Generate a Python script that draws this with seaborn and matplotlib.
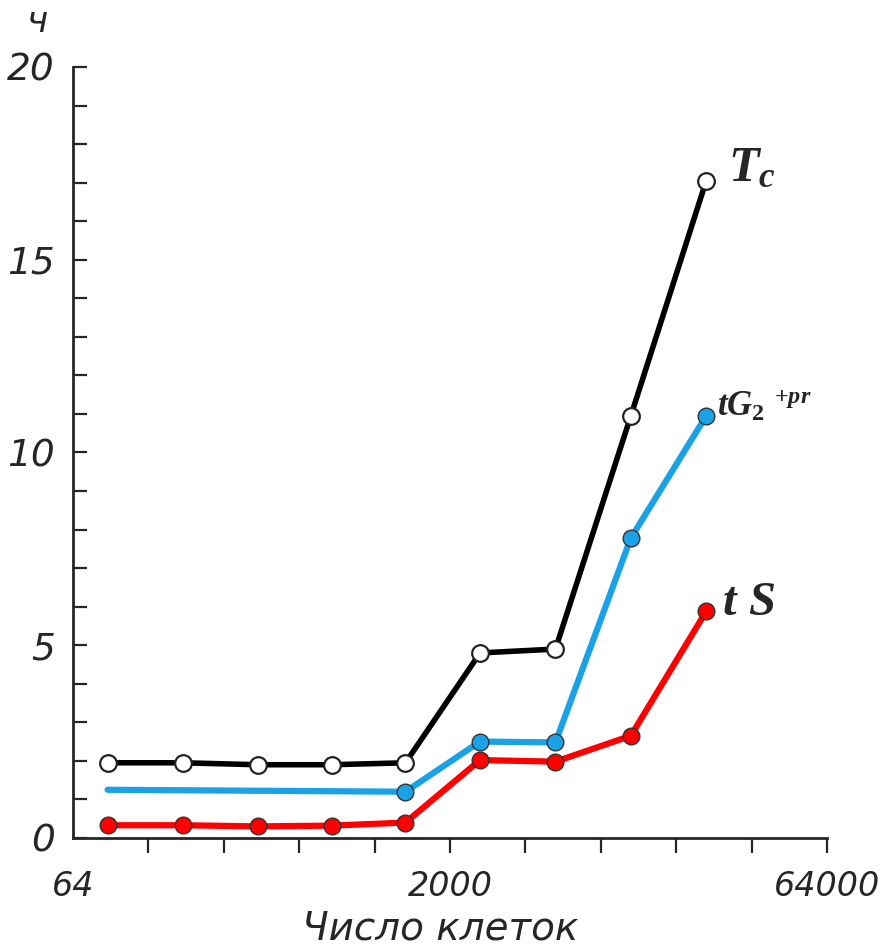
# Cell-cycle durations vs number of cells (log2 x-axis)
import pandas as pd
import matplotlib.pyplot as plt
import seaborn as sns

cells = [88, 176, 350, 690, 1360, 2700, 5400, 10800, 21600]
t_c = [1.95, 1.95, 1.9, 1.9, 1.95, 4.8, 4.9, 10.95, 17.05]
t_s = [0.33, 0.33, 0.3, 0.32, 0.4, 2.02, 1.98, 2.65, 5.88]
# blue curve: plain line from the first stage, dots from 1360 cells on
cells_g2 = [88, 1360, 2700, 5400, 10800, 21600]
t_g2 = [1.25, 1.2, 2.5, 2.48, 7.78, 10.95]

x_labels = {64: "64", 2048: "2000", 65536: "64000"}
y_ticks = [0, 5, 10, 15, 20]

RED, BLUE = "#FF0000", "#1BA1E6"

sns.set_style("ticks")
plt.rcParams["font.family"] = ["DejaVu Sans"]
plt.rcParams["mathtext.fontset"] = "custom"
plt.rcParams["mathtext.it"] = "Liberation Serif:bold:italic"
plt.rcParams["mathtext.rm"] = "Liberation Serif:bold"

fig = plt.figure(figsize=(8.82, 9.49), dpi=100)
ax = fig.add_axes([0.0828, 0.117, 0.8548, 0.8124])

df_main = pd.DataFrame({"cells": cells, "Tc": t_c, "tS": t_s})
df_g2 = pd.DataFrame({"cells": cells_g2, "tG2": t_g2})

sns.lineplot(data=df_main, x="cells", y="Tc", ax=ax, color="black", lw=4,
             marker="o", ms=12, mfc="white", mec="#222222", mew=1.6, clip_on=False)
sns.lineplot(data=df_g2, x="cells", y="tG2", ax=ax, color=BLUE, lw=4.5,
             marker="o", ms=12, mfc=BLUE, mec="#333333", mew=1.0,
             markevery=list(range(1, len(cells_g2))), clip_on=False)
sns.lineplot(data=df_main, x="cells", y="tS", ax=ax, color=RED, lw=4.5,
             marker="o", ms=12, mfc=RED, mec="#333333", mew=1.0, clip_on=False)

ax.set_xscale("log", base=2)
ax.set_xlim(64, 65536)
ax.set_ylim(0, 20)
major = [2 ** k for k in range(7, 17)]
ax.set_xticks(major)
ax.set_xticklabels([x_labels.get(v, "") for v in major], fontstyle="italic", fontsize=24)
ax.set_xticks([64], minor=True)
ax.set_xticklabels(["64"], minor=True, fontstyle="italic", fontsize=24)
ax.tick_params(axis="x", which="major", direction="out", length=11, width=1.6, pad=12)
ax.tick_params(axis="x", which="minor", length=0, pad=23)
ax.set_yticks(range(0, 21))
ax.set_yticklabels([str(v) if v in y_ticks else "" for v in range(0, 21)],
                   fontstyle="italic", fontsize=27)
ax.tick_params(axis="y", direction="in", length=10, width=1.6, pad=13)
ax.set_xlabel("")
ax.set_ylabel("")
sns.despine(ax=ax)
for side in ["left", "bottom"]:
    ax.spines[side].set_linewidth(2)

# curve names at the right ends
ax.annotate(r"$T_c$", (cells[-1], t_c[-1]), xytext=(16, 0), textcoords="offset points",
            fontsize=36, va="baseline")
ax.annotate(r"$tG_2\ ^{+pr}$", (cells_g2[-1], t_g2[-1]), xytext=(8, 0),
            textcoords="offset points", fontsize=25, va="baseline")
ax.annotate(r"$t\ S$", (cells[-1], t_s[-1]), xytext=(11, -3), textcoords="offset points",
            fontsize=35, va="baseline")

fig.text(440 / 882, 1 - 928 / 949, "Число клеток", fontstyle="italic", fontsize=28,
         ha="center", va="center")
fig.text(37 / 882, 1 - 22 / 949, "ч", fontstyle="italic", fontsize=26,
         ha="center", va="center")

fig.savefig("out.png", dpi=100)
